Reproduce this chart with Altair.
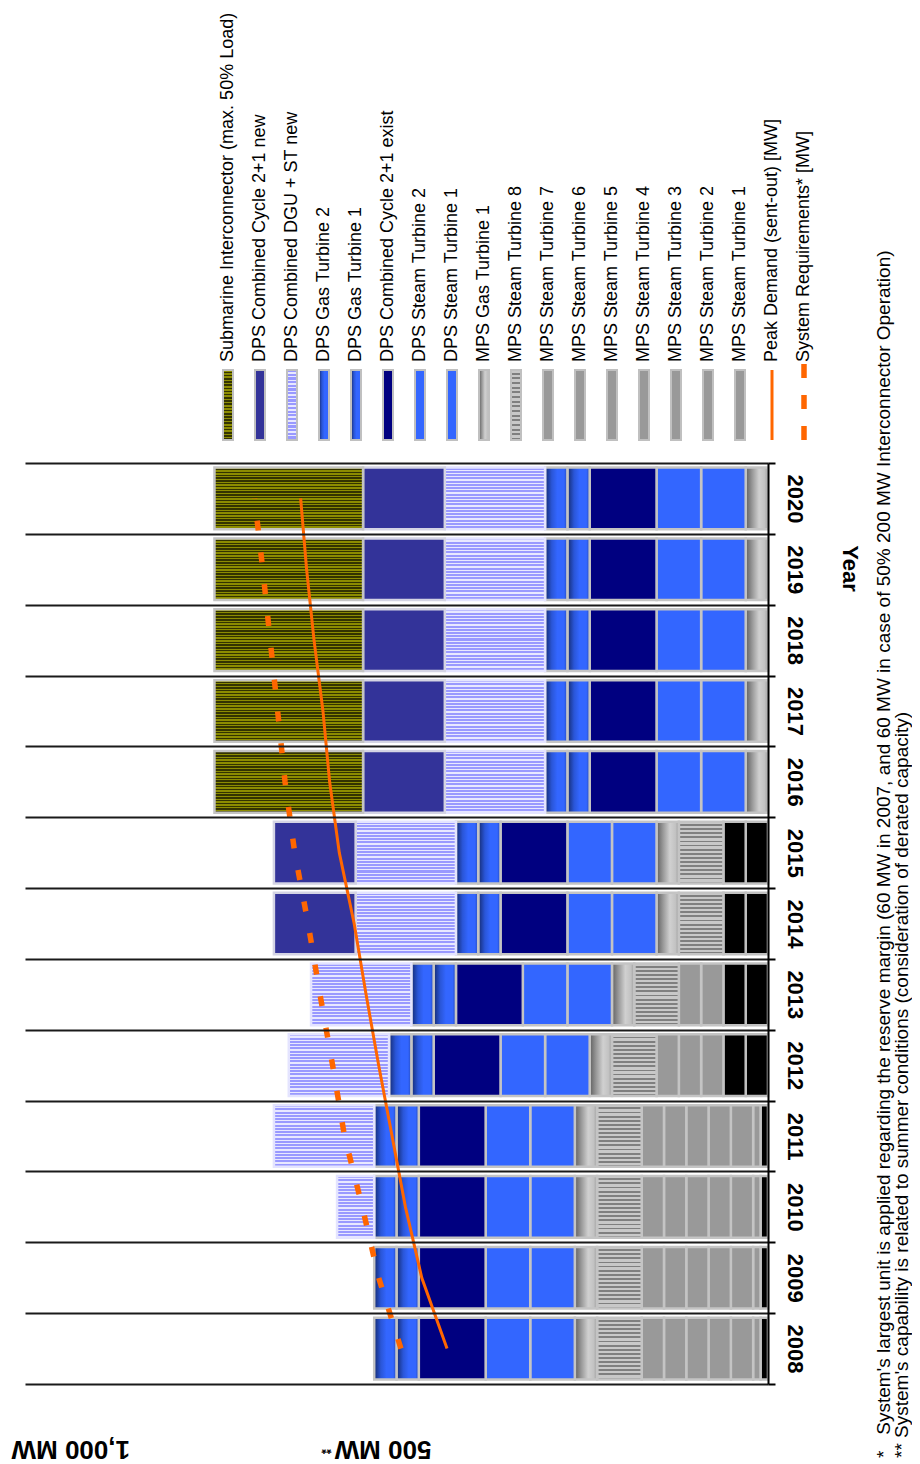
import altair as alt
import pandas as pd

FONT = "Liberation Sans"
ORANGE = "#ff6600"
NB = "\u00a0"

years = [2008, 2009, 2010, 2011, 2012, 2013, 2014, 2015, 2016, 2017, 2018, 2019, 2020]

# Capacity per unit [MW], in stacking order starting at 0 MW
unlisted_black_1 = [10, 10, 10, 10, 30, 30, 30, 30, 0, 0, 0, 0, 0]
unlisted_black_2 = [0, 0, 0, 0, 30, 30, 30, 30, 0, 0, 0, 0, 0]
mps_st1 = [10, 10, 10, 10, 0, 0, 0, 0, 0, 0, 0, 0, 0]
mps_st2 = [30, 30, 30, 30, 30, 30, 0, 0, 0, 0, 0, 0, 0]
mps_st3 = [30, 30, 30, 30, 30, 30, 0, 0, 0, 0, 0, 0, 0]
mps_st4 = [30, 30, 30, 30, 30, 0, 0, 0, 0, 0, 0, 0, 0]
mps_st5 = [30, 30, 30, 30, 0, 0, 0, 0, 0, 0, 0, 0, 0]
mps_st6 = [30, 30, 30, 30, 0, 0, 0, 0, 0, 0, 0, 0, 0]
mps_st7 = [0, 0, 0, 0, 0, 0, 0, 0, 0, 0, 0, 0, 0]
mps_st8 = [60, 60, 60, 60, 60, 60, 60, 60, 0, 0, 0, 0, 0]
mps_gt1 = [30, 30, 30, 30, 30, 30, 30, 30, 30, 30, 30, 30, 30]
dps_st1 = [60, 60, 60, 60, 60, 60, 60, 60, 60, 60, 60, 60, 60]
dps_st2 = [60, 60, 60, 60, 60, 60, 60, 60, 60, 60, 60, 60, 60]
dps_cc_exist = [90, 90, 90, 90, 90, 90, 90, 90, 90, 90, 90, 90, 90]
dps_gt1 = [30, 30, 30, 30, 30, 30, 30, 30, 30, 30, 30, 30, 30]
dps_gt2 = [30, 30, 30, 30, 30, 30, 30, 30, 30, 30, 30, 30, 30]
dps_dgu_st_new = [0, 0, 50, 135, 135, 135, 135, 135, 135, 135, 135, 135, 135]
dps_cc_new = [0, 0, 0, 0, 0, 0, 110, 110, 110, 110, 110, 110, 110]
submarine = [0, 0, 0, 0, 0, 0, 0, 0, 200, 200, 200, 200, 200]

peak_demand = [432, 466, 488, 506, 524, 541, 557, 577, 590, 599, 611, 621, 629]
system_requirements = [494, 524, 546, 570, 586, 603, 619, 637, 650, 660, 670, 680, 691]

legend_labels = [
    "Submarine Interconnector (max. 50% Load)",
    "DPS Combined Cycle 2+1 new",
    "DPS Combined DGU + ST new",
    "DPS Gas Turbine 2",
    "DPS Gas Turbine 1",
    "DPS Combined Cycle 2+1 exist",
    "DPS Steam Turbine 2",
    "DPS Steam Turbine 1",
    "MPS Gas Turbine 1",
    "MPS Steam Turbine 8",
    "MPS Steam Turbine 7",
    "MPS Steam Turbine 6",
    "MPS Steam Turbine 5",
    "MPS Steam Turbine 4",
    "MPS Steam Turbine 3",
    "MPS Steam Turbine 2",
    "MPS Steam Turbine 1",
    "Peak Demand (sent-out) [MW]",
    "System Requirements* [MW]",
]

axis_values = [500, 1000]
axis_labels = ["500 MW", "1,000 MW"]

footnotes = [
    "*" + NB * 3 + "System's largest unit is applied regarding the reserve margin (60 MW in 2007, and 60 MW in case of 50% 200 MW Interconnector Operation)",
    "**" + NB + "System's capability is related to summer conditions (consideration of derated capacity)",
]

units = [
    ("unlisted 1", "black", unlisted_black_1),
    ("unlisted 2", "black", unlisted_black_2),
    ("MPS Steam Turbine 1", "mst", mps_st1),
    ("MPS Steam Turbine 2", "mst", mps_st2),
    ("MPS Steam Turbine 3", "mst", mps_st3),
    ("MPS Steam Turbine 4", "mst", mps_st4),
    ("MPS Steam Turbine 5", "mst", mps_st5),
    ("MPS Steam Turbine 6", "mst", mps_st6),
    ("MPS Steam Turbine 7", "mst", mps_st7),
    ("MPS Steam Turbine 8", "mst8", mps_st8),
    ("MPS Gas Turbine 1", "mgt", mps_gt1),
    ("DPS Steam Turbine 1", "dst", dps_st1),
    ("DPS Steam Turbine 2", "dst", dps_st2),
    ("DPS Combined Cycle 2+1 exist", "ccex", dps_cc_exist),
    ("DPS Gas Turbine 1", "dgt", dps_gt1),
    ("DPS Gas Turbine 2", "dgt", dps_gt2),
    ("DPS Combined DGU + ST new", "dgu", dps_dgu_st_new),
    ("DPS Combined Cycle 2+1 new", "ccnew", dps_cc_new),
    ("Submarine Interconnector (max. 50% Load)", "sub", submarine),
]


# ---------------- fills ----------------
def stripes(c_a, c_b, n, frac):
    stops = []
    for k in range(n):
        s = round(k / n, 5)
        m = round((k + frac) / n, 5)
        e = round((k + 1) / n, 5)
        stops += [
            {"offset": s, "color": c_a},
            {"offset": m, "color": c_a},
            {"offset": m, "color": c_b},
            {"offset": e, "color": c_b},
        ]
    return {"gradient": "linear", "x1": 0, "y1": 0, "x2": 0, "y2": 1, "stops": stops}


def hgrad(pairs):
    return {
        "gradient": "linear", "x1": 0, "y1": 0, "x2": 1, "y2": 0,
        "stops": [{"offset": o, "color": c} for o, c in pairs],
    }


STYLES = {
    "black": dict(fill="#000000", stroke="#c0c0c0"),
    "mst": dict(fill="#999999", stroke="#c4c4c4"),
    "mst8": dict(fill=stripes("#c8c8c8", "#7f7f7f", 15, 0.55), stroke="#c4c4c4"),
    "mgt": dict(fill=hgrad([(0, "#5f5f5f"), (0.3, "#9a9a9a"), (0.6, "#d0d0d0"),
                            (0.85, "#c2c2c2"), (1, "#9c9c9c")]), stroke="#c4c4c4"),
    "dst": dict(fill="#3366ff", stroke="#c4c4c4"),
    "ccex": dict(fill="#000080", stroke="#c4c4c4"),
    "dgt": dict(fill=hgrad([(0, "#142a70"), (0.3, "#2a56d8"), (0.55, "#3366ff"),
                            (0.85, "#3366ff"), (1, "#2448b8")]), stroke="#c4c4c4"),
    "dgu": dict(fill=stripes("#9999ff", "#e8e8ff", 19, 0.62), stroke="#e4e4ff"),
    "ccnew": dict(fill="#333399", stroke="#d4d4e4"),
    "sub": dict(fill=stripes("#8c8c00", "#333300", 22, 0.5), stroke="#c4c4c4"),
}

# ---------------- tables ----------------
rows = []
for order, (name, style, vals) in enumerate(units):
    for yr, v in zip(years, vals):
        rows.append({"year": yr, "unit": name, "style": style, "order": order, "mw": v})
bars_df = pd.DataFrame(rows)

lines_df = pd.DataFrame({"year": years, "peak": peak_demand, "req": system_requirements})

unit_style = {name: style for name, style, _ in units}
leg_styles = []
for lab in legend_labels:
    if lab in unit_style:
        leg_styles.append(unit_style[lab])
    elif lab.startswith("Peak"):
        leg_styles.append("peak")
    else:
        leg_styles.append("req")
legend_df = pd.DataFrame({"label": legend_labels, "i": list(range(len(legend_labels))), "style": leg_styles})

notes_df = pd.DataFrame({"text": footnotes, "i": [0, 1]})
star_df = pd.DataFrame({"v": [axis_values[0]], "t": ["**"]})

# ---------------- scales / axes ----------------
xscale = alt.Scale(domain=[0, 1000], reverse=True, nice=False, zero=True)
yscale = alt.Scale(type="band", domain=years[::-1], paddingInner=0, paddingOuter=0)

label_expr = " : ".join(
    f"datum.value == {v} ? '{t}'" for v, t in zip(axis_values[:-1], axis_labels[:-1])
) + f" : '{axis_labels[-1]}'"

x_axis = alt.Axis(
    orient="bottom", values=axis_values, labelExpr=label_expr, domain=False, ticks=False,
    tickSize=0, grid=False, labelAngle=180,
    labelAlign={"condition": {"test": f"datum.value == {axis_values[-1]}", "value": "right"}, "value": "center"},
    labelBaseline="bottom", labelOffset=-14, labelPadding=51, labelFlush=False, labelOverlap=False,
    labelFont=FONT, labelFontSize=26, labelFontWeight="bold", labelColor="#000", title=None,
)

y_axis = alt.Axis(
    orient="right", tickBand="extent", grid=True, gridColor="#1a1a1a", gridWidth=2, gridOpacity=1,
    domainColor="#000", domainWidth=2, tickColor="#000", tickWidth=2, tickSize=7,
    labelAngle=90, labelAlign="center", labelBaseline="bottom", labelPadding=7,
    labelFont=FONT, labelFontSize=22, labelFontWeight="bold", labelColor="#000",
    title="Year", titleAngle=90, titleAlign="center", titleBaseline="middle",
    titleX=81, titleY=105, titleFont=FONT, titleFontSize=22, titleFontWeight="bold",
    titleColor="#000", zindex=1,
)

X_ENC = lambda f: alt.X(f, scale=xscale, axis=x_axis)
Y_ENC = alt.Y("year:O", scale=yscale, axis=y_axis)

# ---------------- layers ----------------
layers = []
style_seq = []
for _, s, _ in units:
    if s not in style_seq:
        style_seq.append(s)

stacked = alt.Chart(bars_df).transform_stack(
    stack="mw", groupby=["year"], as_=["x0", "x1"],
    sort=[alt.SortField("order", order="ascending")],
).transform_filter("datum.mw > 0")

for s in style_seq:
    st = STYLES[s]
    layers.append(
        stacked.transform_filter(alt.datum.style == s)
        .mark_bar(fill=st["fill"], stroke=st["stroke"], strokeWidth=2.5,
                  height=alt.RelativeBandSize(band=0.87))
        .encode(x=X_ENC("x0:Q"), x2="x1:Q", y=Y_ENC)
    )

# demand lines
layers.append(
    alt.Chart(lines_df).mark_line(color=ORANGE, strokeWidth=3).encode(
        x=X_ENC("peak:Q"), y=Y_ENC, order=alt.Order("year:Q"),
    )
)
layers.append(
    alt.Chart(lines_df).mark_line(color=ORANGE, strokeWidth=5.5, strokeDash=[10, 22], strokeCap="butt").encode(
        x=X_ENC("req:Q"), y=Y_ENC, order=alt.Order("year:Q"),
    )
)

# "**" next to the 500 MW label
layers.append(
    alt.Chart(star_df).mark_text(angle=180, align="center", baseline="middle", font=FONT,
                                 fontSize=13, fontWeight="bold", color="#000", dx=70)
    .encode(x=X_ENC("v:Q"), y=alt.value(986), text="t:N")
)

# legend (custom, rotated): one swatch + one label per entry
LEG_X0, LEG_DX = 203, 32
for i, (lab, sty) in enumerate(zip(legend_labels, leg_styles)):
    cx = LEG_X0 + LEG_DX * i
    entry = alt.Chart(legend_df).transform_filter(alt.datum.i == i)
    if sty in STYLES:
        layers.append(
            entry.mark_rect(fill=STYLES[sty]["fill"], stroke="#c0c0c0", strokeWidth=2).encode(
                x=alt.value(cx - 5), x2=alt.value(cx + 5), y=alt.value(-93), y2=alt.value(-23)
            )
        )
    elif sty == "peak":
        layers.append(
            entry.mark_rule(color=ORANGE, strokeWidth=3).encode(
                x=alt.value(cx), y=alt.value(-93), y2=alt.value(-23)
            )
        )
    else:
        layers.append(
            entry.mark_rule(color=ORANGE, strokeWidth=5.5, strokeDash=[14, 17], strokeCap="butt").encode(
                x=alt.value(cx), y=alt.value(-23), y2=alt.value(-106)
            )
        )
    layers.append(
        entry.mark_text(angle=270, align="left", baseline="middle", font=FONT, fontSize=18,
                        color="#000").encode(x=alt.value(cx), y=alt.value(-101), text="label:N")
    )

# footnotes
for j in range(len(footnotes)):
    layers.append(
        alt.Chart(notes_df).transform_filter(alt.datum.i == j)
        .mark_text(angle=270, align="left", baseline="middle", font=FONT, fontSize=19, color="#000")
        .encode(x=alt.value(859 + 18 * j), y=alt.value(995), text="text:N")
    )

chart = (
    alt.layer(*layers)
    .properties(
        width=743, height=921,
        autosize=alt.AutoSizeParams(type="none"),
        padding={"left": 17, "top": 455, "right": 144, "bottom": 80},
    )
    .configure_view(stroke=None)
)

chart.save("out.html", embed_options={"renderer": "svg", "actions": False})
